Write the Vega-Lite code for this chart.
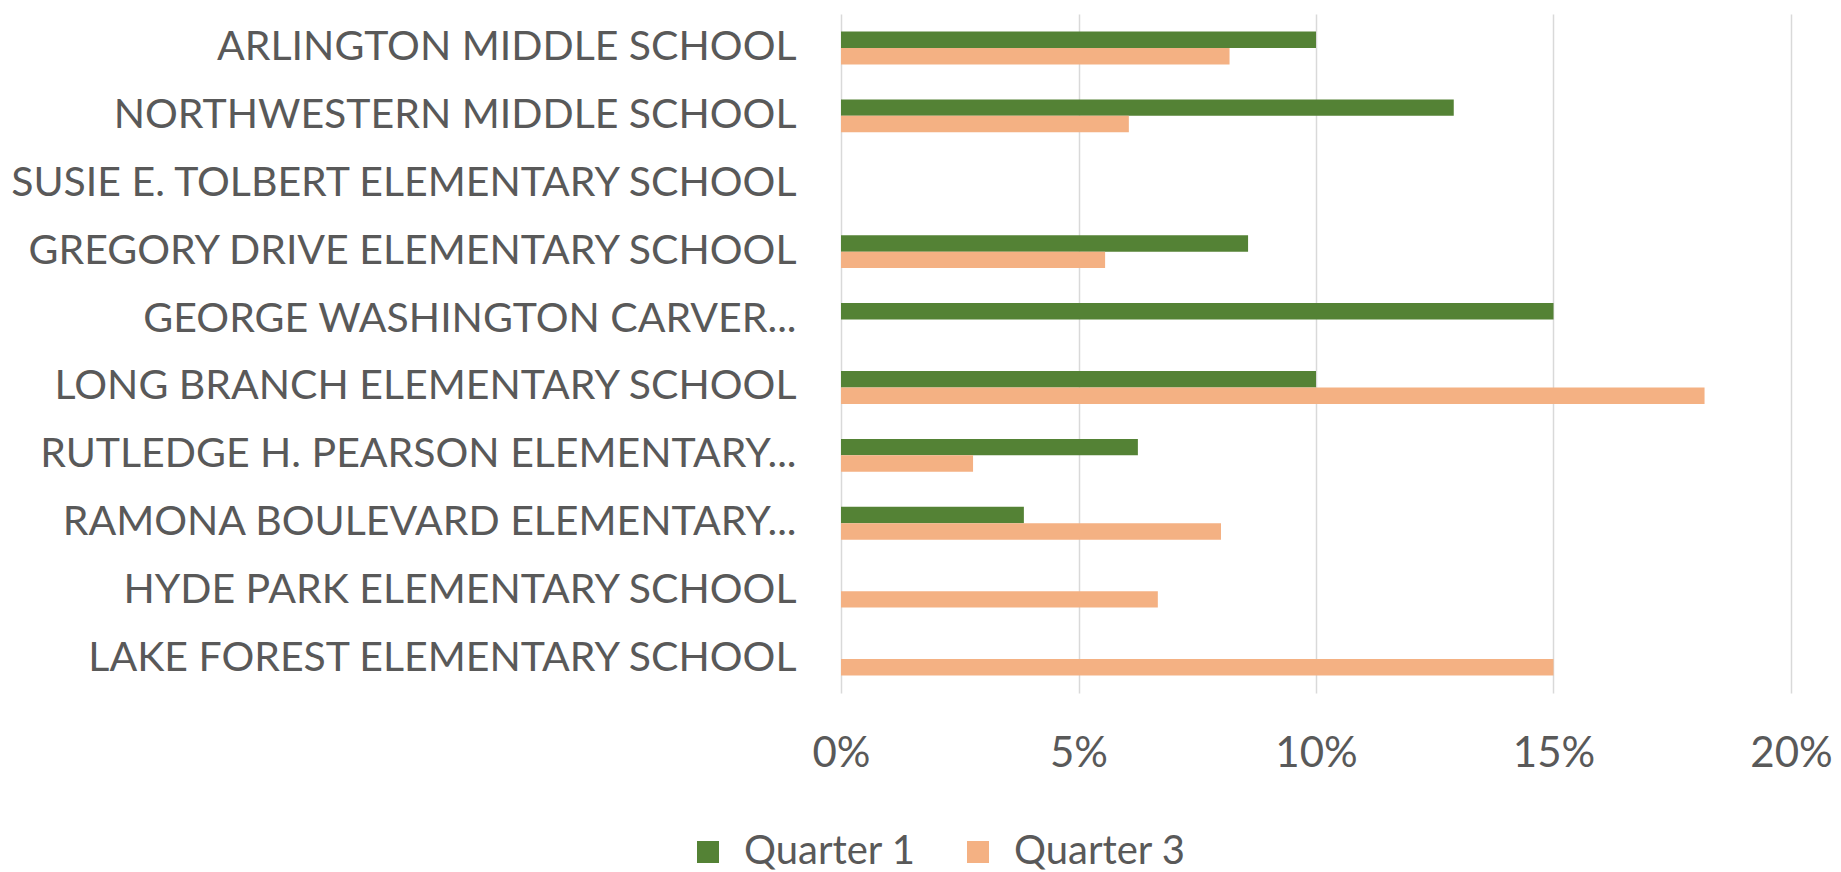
{
  "$schema": "https://vega.github.io/schema/vega-lite/v6.json",
  "width": 950,
  "height": 679,
  "autosize": {"type": "none"},
  "padding": {"left": 841, "top": 14, "right": 50, "bottom": 179},
  "background": "white",
  "config": {
    "view": {"stroke": null},
    "font": "Lato"
  },
  "data": {
    "values": [
      {"school": "ARLINGTON MIDDLE SCHOOL", "quarter": "Quarter 1", "rate": 0.10},
      {"school": "ARLINGTON MIDDLE SCHOOL", "quarter": "Quarter 3", "rate": 0.0818},
      {"school": "NORTHWESTERN MIDDLE SCHOOL", "quarter": "Quarter 1", "rate": 0.129},
      {"school": "NORTHWESTERN MIDDLE SCHOOL", "quarter": "Quarter 3", "rate": 0.0606},
      {"school": "SUSIE E. TOLBERT ELEMENTARY SCHOOL", "quarter": "Quarter 1", "rate": 0},
      {"school": "SUSIE E. TOLBERT ELEMENTARY SCHOOL", "quarter": "Quarter 3", "rate": 0},
      {"school": "GREGORY DRIVE ELEMENTARY SCHOOL", "quarter": "Quarter 1", "rate": 0.0857},
      {"school": "GREGORY DRIVE ELEMENTARY SCHOOL", "quarter": "Quarter 3", "rate": 0.0556},
      {"school": "GEORGE WASHINGTON CARVER...", "quarter": "Quarter 1", "rate": 0.15},
      {"school": "GEORGE WASHINGTON CARVER...", "quarter": "Quarter 3", "rate": 0},
      {"school": "LONG BRANCH ELEMENTARY SCHOOL", "quarter": "Quarter 1", "rate": 0.10},
      {"school": "LONG BRANCH ELEMENTARY SCHOOL", "quarter": "Quarter 3", "rate": 0.1818},
      {"school": "RUTLEDGE H. PEARSON ELEMENTARY...", "quarter": "Quarter 1", "rate": 0.0625},
      {"school": "RUTLEDGE H. PEARSON ELEMENTARY...", "quarter": "Quarter 3", "rate": 0.0278},
      {"school": "RAMONA BOULEVARD ELEMENTARY...", "quarter": "Quarter 1", "rate": 0.0385},
      {"school": "RAMONA BOULEVARD ELEMENTARY...", "quarter": "Quarter 3", "rate": 0.08},
      {"school": "HYDE PARK ELEMENTARY SCHOOL", "quarter": "Quarter 1", "rate": 0},
      {"school": "HYDE PARK ELEMENTARY SCHOOL", "quarter": "Quarter 3", "rate": 0.0667},
      {"school": "LAKE FOREST ELEMENTARY SCHOOL", "quarter": "Quarter 1", "rate": 0},
      {"school": "LAKE FOREST ELEMENTARY SCHOOL", "quarter": "Quarter 3", "rate": 0.15}
    ]
  },
  "mark": {"type": "bar"},
  "encoding": {
    "y": {
      "field": "school",
      "type": "nominal",
      "sort": null,
      "scale": {"paddingInner": 0.515, "paddingOuter": 0.2575},
      "axis": {
        "title": null,
        "domain": false,
        "ticks": false,
        "labelPadding": 45,
        "labelFontSize": 41,
        "labelColor": "#595959",
        "labelLimit": 900
      }
    },
    "yOffset": {
      "field": "quarter",
      "type": "nominal",
      "sort": ["Quarter 1", "Quarter 3"],
      "scale": {"paddingInner": 0, "paddingOuter": 0}
    },
    "x": {
      "field": "rate",
      "type": "quantitative",
      "scale": {"domain": [0, 0.2], "nice": false},
      "axis": {
        "title": null,
        "values": [0, 0.05, 0.1, 0.15, 0.2],
        "format": ".0%",
        "domain": false,
        "ticks": false,
        "grid": true,
        "gridColor": "#d9d9d9",
        "gridWidth": 1.5,
        "labelFlush": false,
        "labelPadding": 40,
        "labelFontSize": 42,
        "labelColor": "#595959"
      }
    },
    "color": {
      "field": "quarter",
      "type": "nominal",
      "scale": {"domain": ["Quarter 1", "Quarter 3"], "range": ["#548235", "#F4B183"]},
      "legend": {
        "title": null,
        "orient": "none",
        "legendX": -153,
        "legendY": 818,
        "direction": "horizontal",
        "columns": 2,
        "symbolType": "square",
        "symbolSize": 484,
        "symbolStrokeWidth": 0,
        "labelFontSize": 40,
        "labelColor": "#595959",
        "labelOffset": 16,
        "labelLimit": 400,
        "columnPadding": 42
      }
    }
  }
}
